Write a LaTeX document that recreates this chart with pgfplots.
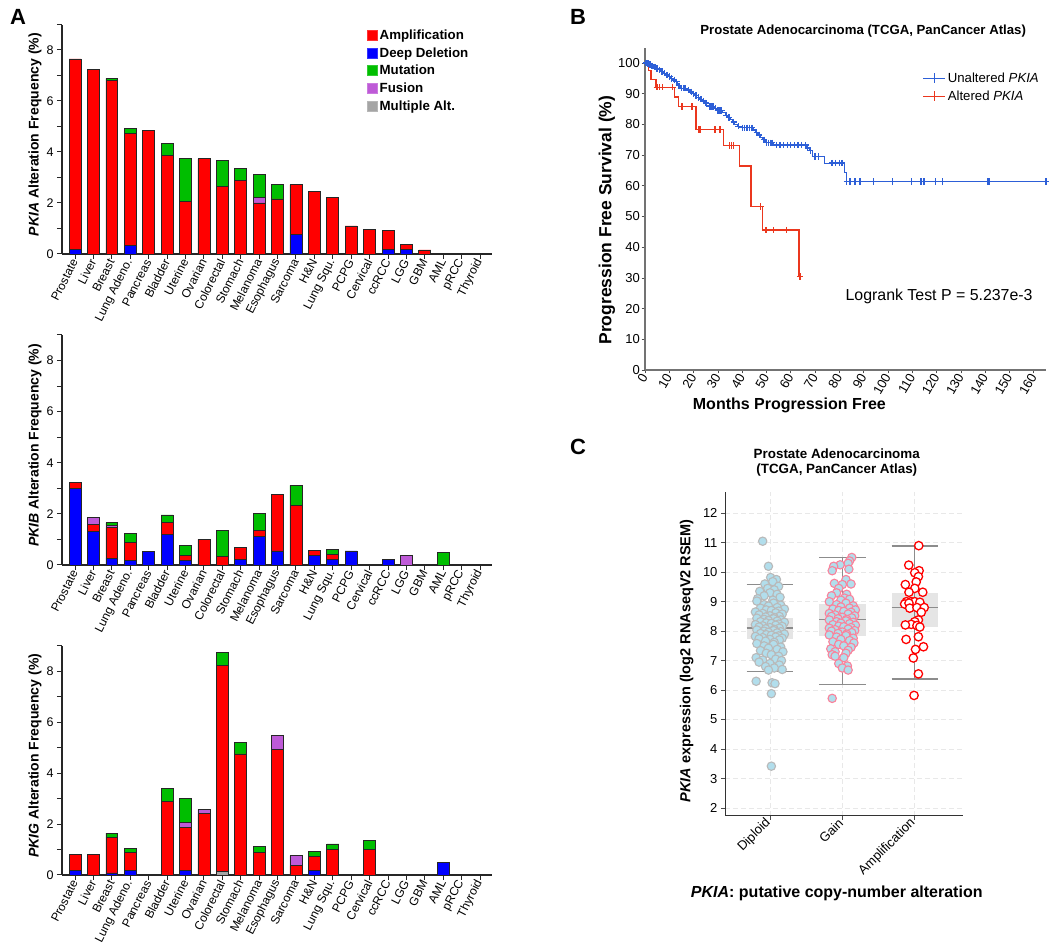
\documentclass[border=0pt]{standalone}
\usepackage{pgfplots}
\pgfplotsset{compat=1.18}
\usepackage{pgfplotstable}
\usepackage{fontspec}
\setmainfont{Liberation Sans}
\setsansfont{Liberation Sans}

\definecolor{amp}{RGB}{255,0,0}
\definecolor{del}{RGB}{0,0,255}
\definecolor{mut}{RGB}{0,190,0}
\definecolor{fus}{RGB}{190,90,215}
\definecolor{mult}{RGB}{165,165,165}
\definecolor{kmblue}{RGB}{45,95,215}
\definecolor{kmred}{RGB}{235,55,30}
\definecolor{ltblue}{RGB}{178,222,236}
\definecolor{pinkedge}{RGB}{250,130,155}
\definecolor{grayedge}{RGB}{185,185,185}

\newcommand{\fs}[1]{\fontsize{#1}{#1}\selectfont}

\pgfplotsset{
 sqlegend/.style={legend image code/.code={\draw[##1, line width=0.6pt] (0pt,-5pt) rectangle (10pt,5pt);}},
 lnlegend/.style={legend image code/.code={\draw[##1, mark repeat=2, mark phase=2] plot coordinates {(0pt,0pt) (11pt,0pt) (22pt,0pt)};}},
}

% columns: x, multiple alt (g), deep deletion (b), amplification (r), fusion (p), mutation (m)
\pgfplotstableread{
x g b r p m
0 0 0.18 7.47 0 0
1 0 0 7.23 0 0
2 0 0 6.80 0 0.09
3 0 0.33 4.40 0 0.20
4 0 0 4.86 0 0
5 0 0 3.86 0 0.48
6 0 0 2.05 0 1.68
7 0 0 3.73 0 0
8 0 0 2.64 0 1.02
9 0 0 2.90 0 0.46
10 0 0 2.00 0.22 0.90
11 0 0 2.16 0 0.55
12 0 0.77 1.95 0 0
13 0 0 2.45 0 0
14 0 0 2.22 0 0
15 0 0 1.10 0 0
16 0 0 0.98 0 0
17 0 0.18 0.76 0 0
18 0 0.17 0.21 0 0
19 0 0 0.16 0 0
20 0 0 0 0 0
21 0 0 0 0 0
22 0 0 0 0 0
}\pkia

\pgfplotstableread{
x g b r p m
0 0 3.01 0.22 0 0
1 0 1.33 0.27 0.27 0
2 0 0.27 1.19 0.10 0.10
3 0 0.18 0.70 0 0.36
4 0 0.53 0 0 0
5 0 1.20 0.48 0 0.28
6 0 0.17 0.20 0 0.38
7 0 0 1.00 0 0
8 0 0 0.33 0 1.02
9 0 0.20 0.47 0 0
10 0 1.12 0.23 0 0.68
11 0 0.55 2.20 0 0
12 0 0 2.33 0 0.79
13 0 0.37 0.20 0 0
14 0 0.20 0.22 0 0.20
15 0 0.55 0 0 0
16 0 0 0 0 0
17 0 0.20 0 0 0
18 0 0 0 0.38 0
19 0 0 0 0 0
20 0 0 0 0 0.48
21 0 0 0 0 0
22 0 0 0 0 0
}\pkib

\pgfplotstableread{
x g b r p m
0 0 0.18 0.62 0 0
1 0 0 0.80 0 0
2 0 0.08 1.38 0 0.18
3 0 0.17 0.70 0 0.18
4 0 0 0 0 0
5 0 0 2.90 0 0.50
6 0 0.17 1.70 0.20 0.95
7 0 0 2.40 0.17 0
8 0.15 0 8.09 0 0.50
9 0 0 4.75 0 0.45
10 0 0 0.90 0 0.22
11 0 0 4.93 0.55 0
12 0 0 0.37 0.39 0
13 0 0.17 0.56 0 0.21
14 0 0 1.00 0 0.22
15 0 0 0 0 0
16 0 0 1.00 0 0.35
17 0 0 0 0 0
18 0 0 0 0 0
19 0 0 0 0 0
20 0 0.50 0 0 0
21 0 0 0 0 0
22 0 0 0 0 0
}\pkig

\pgfplotsset{
 abar/.style={
  scale only axis, width=430pt, anchor=south west,
  ybar stacked, bar width=0.65,
  xmin=-0.71, xmax=22.65, ymin=0, ymax=9,
  axis lines*=left,
  axis line style={black!85, line width=1.1pt},
  xtick={0,...,22},
  xticklabels={Prostate,Liver,Breast,Lung Adeno.,Pancreas,Bladder,Uterine,Ovarian,Colorectal,Stomach,Melanoma,Esophagus,Sarcoma,H\&N,Lung Squ.,PCPG,Cervical,ccRCC,LGG,GBM,AML,pRCC,Thyroid},
  xticklabel style={rotate=63, anchor=east, font=\fs{12}, inner sep=1pt},
  ytick={0,2,4,6,8}, minor ytick={1,3,5,7,9},
  tick align=outside, major tick length=5pt, minor tick length=5pt,
  tick style={black!85, line width=1pt},
  yticklabel style={font=\fs{12.5}},
  /pgf/number format/assume math mode=true,
  ylabel style={font=\bfseries\fs{14}, at={(axis description cs:-0.063,0.52)}, anchor=center},
  every axis plot/.append style={draw=black!85, line width=0.8pt},
 },
 boxfill/.style={fill=black!10, draw=none},
 boxline/.style={draw=black!45, line width=1.2pt, unbounded coords=jump},
}

\begin{document}
\begin{tikzpicture}
\useasboundingbox (0,0) rectangle (1050pt,948pt);

\node[font=\bfseries\fs{22}] at (18pt,931pt) {A};
\node[font=\bfseries\fs{22}] at (578pt,931pt) {B};
\node[font=\bfseries\fs{22}] at (578pt,501pt) {C};

% ---------- A: PKIA ----------
\begin{axis}[abar, at={(62pt,694pt)}, height=229.5pt,
  ylabel={\textit{PKIA} Alteration Frequency (\%)},
  legend style={at={(0.702,0.995)}, anchor=north west, draw=none, fill=none, font=\bfseries\fs{13.3}, row sep=2.5pt},
  legend cell align=left]
\addlegendimage{sqlegend, fill=amp, draw=amp!80!white}
\addlegendentry{Amplification}
\addlegendimage{sqlegend, fill=del, draw=del!80!white}
\addlegendentry{Deep Deletion}
\addlegendimage{sqlegend, fill=mut, draw=mut!80!white}
\addlegendentry{Mutation}
\addlegendimage{sqlegend, fill=fus, draw=fus!80!white}
\addlegendentry{Fusion}
\addlegendimage{sqlegend, fill=mult, draw=mult!80!white}
\addlegendentry{Multiple Alt.}
\addplot[fill=mult] table[x=x,y=g]{\pkia};
\addplot[fill=del] table[x=x,y=b]{\pkia};
\addplot[fill=amp] table[x=x,y=r]{\pkia};
\addplot[fill=fus] table[x=x,y=p]{\pkia};
\addplot[fill=mut] table[x=x,y=m]{\pkia};
\end{axis}

% ---------- A: PKIB ----------
\begin{axis}[abar, at={(62pt,383pt)}, height=230pt,
  ylabel={\textit{PKIB} Alteration Frequency (\%)}]
\addplot[fill=mult] table[x=x,y=g]{\pkib};
\addplot[fill=del] table[x=x,y=b]{\pkib};
\addplot[fill=amp] table[x=x,y=r]{\pkib};
\addplot[fill=fus] table[x=x,y=p]{\pkib};
\addplot[fill=mut] table[x=x,y=m]{\pkib};
\end{axis}

% ---------- A: PKIG ----------
\begin{axis}[abar, at={(62pt,73pt)}, height=229.3pt,
  ylabel={\textit{PKIG} Alteration Frequency (\%)}]
\addplot[fill=mult] table[x=x,y=g]{\pkig};
\addplot[fill=del] table[x=x,y=b]{\pkig};
\addplot[fill=amp] table[x=x,y=r]{\pkig};
\addplot[fill=fus] table[x=x,y=p]{\pkig};
\addplot[fill=mut] table[x=x,y=m]{\pkig};
\end{axis}

% ---------- B: Kaplan-Meier ----------
\begin{axis}[
 scale only axis, anchor=south west, at={(645pt,578pt)},
 width=401pt, height=322.3pt,
 xmin=0, xmax=165, ymin=0, ymax=105,
 axis lines*=left,
 axis line style={draw=black!55, line width=1.3pt},
 xtick={0,10,...,160}, ytick={0,10,...,100},
 tick align=outside, major tick length=3.5pt,
 tick style={black!70, line width=0.8pt},
 xticklabel style={rotate=60, anchor=east, font=\fs{13}, inner sep=1pt},
 yticklabel style={font=\fs{13}, inner sep=1.5pt},
 /pgf/number format/assume math mode=true,
 xlabel={Months Progression Free},
 ylabel={Progression Free Survival (\%)},
 xlabel style={font=\bfseries\fs{16}, at={(axis description cs:0.36,-0.11)}, anchor=center},
 ylabel style={font=\bfseries\fs{17.5}, at={(axis description cs:-0.095,0.465)}, anchor=center},
 title={Prostate Adenocarcinoma (TCGA, PanCancer Atlas)},
 title style={font=\bfseries\fs{13.2}, at={(axis description cs:0.544,1.033)}, anchor=center},
 legend style={at={(0.995,0.935)}, anchor=north east, draw=none, fill=none, font=\fs{13.2}, row sep=3pt},
 legend cell align=left,
 clip=false,
]
\addlegendimage{lnlegend, color=kmblue, line width=1.3pt, mark=+, mark size=5pt}
\addlegendentry{Unaltered \textit{PKIA}}
\addlegendimage{lnlegend, color=kmred, line width=1.3pt, mark=+, mark size=5pt}
\addlegendentry{Altered \textit{PKIA}}

\addplot[color=kmblue, line width=1.1pt, const plot, forget plot] coordinates {
(0,100) (0.8,99.8) (1.5,99.5) (2.5,99.1) (3.5,98.7) (4.5,98.2) (5.5,97.8) (6.5,97.3)
(7.5,96.7) (8.5,96.1) (9.5,95.6) (10.5,95.0) (11.5,94.5) (12.5,93.9) (13.5,92.6)
(14.5,91.8) (17.6,91.2) (18.5,90.6) (19.3,90.0) (20.2,89.4) (21.2,88.8) (22.2,88.2)
(23.2,87.6) (24.2,87.0) (25.2,86.3) (26,85.8) (28.5,85.3) (29.5,84.5) (32,83.8)
(33,83.0) (34,82.3) (35,81.5) (36,80.8) (37,80.0) (38,79.4) (39.5,78.9) (44.5,78.2)
(45.5,77.4) (46.5,76.6) (47.5,75.8) (48.5,75.0) (49.5,74.0) (53,73.3) (66.5,72.3)
(67.5,71.5) (69,69.5) (74,67.4) (82.2,64.2) (82.8,61.4) (165,61.4)};
\addplot[color=kmblue, only marks, mark=+, mark size=3.2pt, line width=1.3pt, forget plot] coordinates {
(0.3,100) (0.6,100) (1.0,99.8) (1.3,99.8) (1.8,99.5) (2.2,99.5) (2.8,99.1) (3.2,99.1)
(3.8,98.7) (4.2,98.7) (4.8,98.2) (5.2,98.2) (6,97.8) (7,97.3) (8,96.7) (9,96.1)
(10,95.6) (11,95.0) (12,94.5) (13,93.9) (14,92.6) (15,91.8) (16,91.8) (16.8,91.8)
(18,91.2) (19,90.6) (20,90.0) (21,89.4) (22,88.8) (23,88.2) (24,87.6) (25,87.0)
(26.5,85.8) (27.2,85.8) (28,85.8) (29,85.3) (30,84.5) (30.8,84.5) (31.5,84.5)
(33.5,83.0) (34.5,82.3) (36.5,80.8) (38.5,79.4) (40,78.9) (41,78.9) (42,78.9)
(43,78.9) (44,78.9) (46,77.4) (47,76.6) (49,75.0) (50,74.0) (50.8,74.0) (51.5,74.0)
(52.3,74.0) (54,73.3) (55.5,73.3) (57,73.3) (58.5,73.3) (60,73.3) (61.5,73.3)
(63,73.3) (64.5,73.3) (66,73.3) (67,72.3) (68,71.5) (70,69.5) (71.5,69.5)
(77,67.4) (78.5,67.4) (80,67.4) (81,67.4) (83,61.4) (84.4,61.4) (86.4,61.4)
(88.5,61.4) (94,61.4) (101.8,61.4) (109.7,61.4) (113.6,61.4) (114.8,61.4)
(119.6,61.4) (122.3,61.4) (140.8,61.4) (141.6,61.4) (165,61.4)};

\addplot[draw=kmred, color=kmred, line width=1.4pt, line join=miter, forget plot] coordinates {
(0,100) (1.4,100) (1.4,97.6) (2.5,97.6) (2.5,94.7) (4.5,94.7) (4.5,92.1) (12.1,92.1)
(12.1,89.0) (13.8,89.0) (13.8,85.8) (21.0,85.8) (21.0,78.4) (32.2,78.4) (32.2,73.2)
(38.8,73.2) (38.8,66.5) (43.6,66.5) (43.6,53.2) (48.3,53.2) (48.3,45.6) (63.4,45.6)
(63.4,30.4) (63.8,30.4)};
\addplot[color=kmred, only marks, mark=+, mark size=3.2pt, line width=1.4pt, forget plot] coordinates {
(4.9,92.1) (6,92.1) (7.3,92.1) (11.4,92.1) (15.3,85.8) (19.4,85.8) (21.9,78.4)
(22.6,78.4) (28.8,78.4) (30.8,78.4) (34.7,73.2) (35.6,73.2) (36.3,73.2) (47.6,53.2)
(49.8,45.6) (52.8,45.6) (58.3,45.6) (63.8,30.4)};

\node[font=\fs{15.9}] at (axis cs:121,24.1) {Logrank Test P = 5.237e-3};
\end{axis}

% ---------- C: expression by CNA ----------
\begin{axis}[
 scale only axis, anchor=south west, at={(725pt,132.3pt)},
 width=238.3pt, height=324pt,
 xmin=-0.62, xmax=2.67, ymin=1.74, ymax=12.73,
 axis lines*=left,
 axis line style={black!80, line width=1pt},
 xtick={0,1,2}, xticklabels={Diploid,Gain,Amplification},
 ytick={2,3,...,12},
 xmajorgrids, ymajorgrids,
 grid style={dash pattern=on 5pt off 3pt, black!9, line width=0.8pt},
 tick align=outside, major tick length=4pt, tick style={black!70, line width=0.8pt},
 xticklabel style={rotate=45, anchor=east, font=\fs{13}, inner sep=2pt},
 yticklabel style={font=\fs{13}},
 /pgf/number format/assume math mode=true,
 xlabel={\textit{PKIA}: putative copy-number alteration},
 ylabel={\textit{PKIA} expression (log2 RNAseqV2 RSEM)},
 xlabel style={font=\bfseries\fs{16}, at={(axis description cs:0.469,-0.24)}, anchor=center},
 ylabel style={font=\bfseries\fs{14.5}, at={(axis description cs:-0.161,0.478)}, anchor=center},
 title={Prostate Adenocarcinoma\\(TCGA, PanCancer Atlas)},
 title style={font=\bfseries\fontsize{13.4}{15.5}\selectfont, align=center, at={(axis description cs:0.469,1.072)}, anchor=center},
 clip=false,
]
% boxes (interquartile range)
\addplot[boxfill] coordinates {(-0.32,7.75) (0.32,7.75) (0.32,8.46) (-0.32,8.46)};
\addplot[boxfill] coordinates {(0.68,7.85) (1.32,7.85) (1.32,8.92) (0.68,8.92)};
\addplot[boxfill] coordinates {(1.68,8.13) (2.32,8.13) (2.32,9.29) (1.68,9.29)};
% whiskers, caps and medians
\addplot[boxline] coordinates {(-0.32,9.59) (0.32,9.59) (nan,nan) (-0.32,6.62) (0.32,6.62) (nan,nan) (0,6.62) (0,9.59) (nan,nan) (-0.32,8.11) (0.32,8.11)};
\addplot[boxline] coordinates {(0.68,10.49) (1.32,10.49) (nan,nan) (0.68,6.20) (1.32,6.20) (nan,nan) (1,6.20) (1,10.49) (nan,nan) (0.68,8.40) (1.32,8.40)};
\addplot[boxline] coordinates {(1.68,10.89) (2.32,10.89) (nan,nan) (1.68,6.38) (2.32,6.38) (nan,nan) (2,6.38) (2,10.89) (nan,nan) (1.68,8.81) (2.32,8.81)};

\addplot[only marks, mark=*, mark size=4.2pt, mark options={fill=ltblue, draw=grayedge, line width=1.1pt}] coordinates {
(-0.10,11.05) (-0.02,10.2) (0.01,9.82) (0.09,9.75) (0.04,9.68) (-0.07,9.6) (0.12,9.52) (-0.03,9.45)
(0.06,9.4) (-0.14,9.35) (0.0,9.3) (0.10,9.25) (-0.08,9.2) (0.14,9.15) (-0.17,9.1) (0.04,9.05)
(-0.18,9.02) (0.05,8.95) (-0.08,8.90) (0.15,8.88) (-0.02,8.85) (0.10,8.80) (-0.13,8.78) (0.20,8.75)
(-0.05,8.72) (0.02,8.70) (0.12,8.68) (-0.20,8.65) (0.08,8.62) (-0.10,8.60) (0.17,8.58) (-0.15,8.55)
(0.00,8.52) (0.13,8.50) (-0.06,8.48) (0.06,8.46) (-0.18,8.44) (0.05,8.42) (-0.08,8.40) (0.15,8.38)
(-0.02,8.36) (0.10,8.34) (-0.13,8.32) (0.20,8.30) (-0.05,8.28) (0.02,8.26) (0.12,8.24) (-0.20,8.22)
(0.08,8.20) (-0.10,8.18) (0.17,8.16) (-0.15,8.14) (0.00,8.12) (0.13,8.10) (-0.06,8.08) (0.06,8.06)
(-0.18,8.04) (0.05,8.02) (-0.08,8.00) (0.15,7.98) (-0.02,7.96) (0.10,7.94) (-0.13,7.92) (0.20,7.90)
(-0.05,7.88) (0.02,7.86) (0.12,7.84) (-0.20,7.82) (0.08,7.80) (-0.10,7.78) (0.17,7.76) (-0.15,7.74)
(0.00,7.72) (0.13,7.70) (-0.06,7.66) (0.06,7.62) (-0.18,7.58) (0.05,7.55) (-0.08,7.50) (0.15,7.46)
(-0.02,7.42) (0.10,7.38) (-0.13,7.34) (0.18,7.30) (-0.05,7.25) (0.02,7.20) (0.12,7.15) (-0.19,7.10)
(0.08,7.05) (-0.10,7.02) (0.16,7.00) (-0.15,6.95) (0.00,6.90) (0.13,6.85) (-0.06,6.80) (0.06,6.75)
(0.17,6.70) (-0.02,6.68) (-0.19,6.3) (0.03,6.25) (0.07,6.22) (0.02,5.88) (0.02,3.42)};

\addplot[only marks, mark=*, mark size=4.2pt, mark options={fill=ltblue, draw=pinkedge, line width=1.1pt}] coordinates {
(1.13,10.5) (1.10,10.38) (1.08,10.3) (0.97,10.25) (0.88,10.2) (1.09,10.1) (0.86,10.05) (1.05,9.75)
(0.89,9.62) (1.12,9.6) (1.00,9.58) (0.95,9.45) (0.92,9.3) (1.06,9.25) (0.85,9.2) (1.03,9.12)
(1.10,9.08) (0.98,9.05)
(0.82,9.0) (1.05,8.95) (0.92,8.9) (1.15,8.86) (0.98,8.82) (1.10,8.78) (0.87,8.75) (1.18,8.72)
(0.95,8.7) (1.02,8.67) (1.12,8.64) (0.82,8.6) (1.08,8.58) (0.90,8.55) (1.17,8.52) (0.85,8.5)
(1.00,8.47) (1.13,8.45) (0.94,8.42) (1.06,8.4) (0.82,8.38) (1.05,8.35) (0.92,8.32) (1.15,8.3)
(0.98,8.27) (1.10,8.25) (0.87,8.22) (1.18,8.2) (0.95,8.17) (1.02,8.15) (1.12,8.12) (0.82,8.1)
(1.08,8.07) (0.90,8.05) (1.17,8.02) (0.85,8.0) (1.00,7.97) (1.13,7.95) (0.94,7.92) (1.06,7.9)
(0.82,7.87) (1.05,7.85) (0.92,7.8) (1.15,7.76) (0.98,7.72) (1.10,7.68) (0.87,7.64) (1.16,7.6)
(0.95,7.55) (1.02,7.5) (1.12,7.45) (0.84,7.4) (1.08,7.35) (0.90,7.3) (1.05,7.25) (0.86,7.2)
(0.90,7.15) (1.02,7.1) (0.95,6.9) (1.07,6.82) (1.00,6.75) (1.08,6.68) (0.86,5.72)};

\addplot[only marks, mark=*, mark size=4.2pt, mark options={fill=white, draw=red, line width=1.3pt}] coordinates {
(2.055,10.90) (1.917,10.24) (2.06,10.05) (2.0,9.98) (2.05,9.85) (1.87,9.58) (2.02,9.67) (2.0,9.45)
(1.92,9.32) (2.11,9.32) (1.885,9.0) (1.86,8.92) (1.95,9.0) (2.0,9.0) (1.92,8.95) (2.07,8.98)
(1.93,8.78) (2.03,8.8) (2.13,8.8) (2.09,8.64) (2.05,8.38) (2.0,8.32) (1.95,8.23) (1.87,8.21)
(2.03,8.19) (2.07,8.14) (2.05,7.81) (1.88,7.72) (2.01,7.38) (2.12,7.47) (1.98,7.09) (2.05,6.55)
(1.99,5.82)};
\end{axis}

\end{tikzpicture}
\end{document}
